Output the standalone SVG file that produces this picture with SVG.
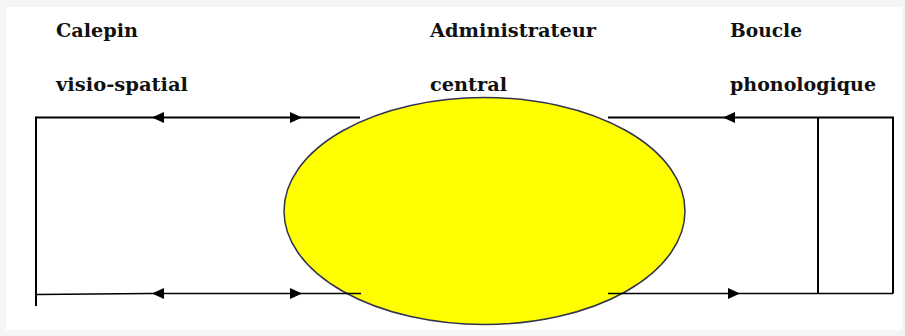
<svg xmlns="http://www.w3.org/2000/svg" xmlns:xlink="http://www.w3.org/1999/xlink" width="905" height="336" viewBox="0 0 905 336">
  <style>
    .lbl { font-family: "DejaVu Serif", "Liberation Serif", serif; font-weight: bold; font-size: 19px; fill: #111; }
    .ln { stroke: #000; fill: none; stroke-linecap: butt; }
    .thick { stroke-width: 2; }
    .thin { stroke-width: 1.6; }
  </style>
  <defs>
    <polygon id="ah" points="0,0 -12,-5.5 -12,5.5" fill="#000"/>
  </defs>
  <rect x="0" y="0" width="905" height="336" fill="#f5f5f5"/>
  <rect x="6" y="7" width="896" height="323" fill="#ffffff"/>

  <g id="node-administrateur">
    <ellipse cx="484.5" cy="211" rx="200.5" ry="113.5" fill="#ffff00" stroke="#33334d" stroke-width="1.5"/>
    <text class="lbl" x="430" y="37" textLength="166" lengthAdjust="spacingAndGlyphs">Administrateur</text>
    <text class="lbl" x="430" y="91" textLength="77" lengthAdjust="spacingAndGlyphs">central</text>
  </g>

  <g id="node-calepin">
    <text class="lbl" x="56" y="37" textLength="82" lengthAdjust="spacingAndGlyphs">Calepin</text>
    <text class="lbl" x="56" y="91" textLength="132" lengthAdjust="spacingAndGlyphs">visio-spatial</text>
  </g>

  <g id="node-boucle">
    <text class="lbl" x="730" y="37" textLength="72" lengthAdjust="spacingAndGlyphs">Boucle</text>
    <text class="lbl" x="730" y="91" textLength="146" lengthAdjust="spacingAndGlyphs">phonologique</text>
  </g>

  <g id="connectors">
    <!-- left loop -->
    <path class="ln thick" d="M36,117.5 H360"/>
    <path class="ln thick" d="M36,116.5 V306"/>
    <path class="ln thin" d="M36,294.5 L150,293.5 H361"/>
    <use xlink:href="#ah" transform="translate(152,117.5) rotate(180)"/>
    <use xlink:href="#ah" transform="translate(302,117.5)"/>
    <use xlink:href="#ah" transform="translate(152,293.5) rotate(180)"/>
    <use xlink:href="#ah" transform="translate(302,293.5)"/>
    <!-- right loop -->
    <path class="ln thick" d="M608,117.5 H893 V293.5"/>
    <path class="ln thick" d="M818,117.5 V293.5"/>
    <path class="ln thin" d="M608,293.5 H893"/>
    <use xlink:href="#ah" transform="translate(723,117.5) rotate(180)"/>
    <use xlink:href="#ah" transform="translate(740,293.5)"/>
  </g>
</svg>
